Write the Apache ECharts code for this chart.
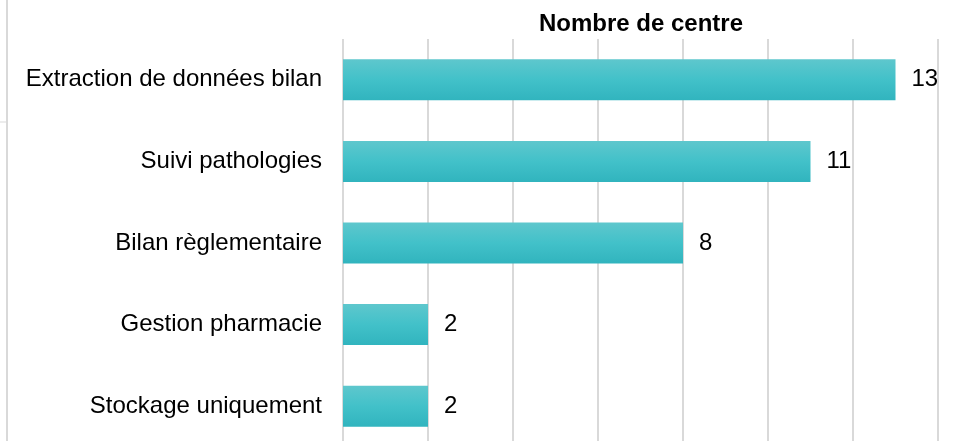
<!DOCTYPE html>
<html>
<head>
<meta charset="utf-8">
<script src="https://cdn.jsdelivr.net/npm/echarts@6/dist/echarts.min.js"></script>
<style>
  html, body { margin: 0; padding: 0; background: #fff; }
  #chart { width: 961px; height: 441px; }
</style>
</head>
<body>
<div id="chart"></div>
<script>
// données
var categories = ['Extraction de données bilan', 'Suivi pathologies', 'Bilan règlementaire', 'Gestion pharmacie', 'Stockage uniquement'];
var values = [13, 11, 8, 2, 2];

var myChart = echarts.init(document.getElementById('chart'));

myChart.setOption({
    animation: false,
    title: {
        text: 'Nombre de centre',
        left: 636,
        textAlign: 'center',
        top: 7,
        textStyle: { fontFamily: 'Liberation Sans', fontSize: 24, fontWeight: 'bold', color: '#000' }
    },
    grid: { left: 343, right: 23, top: 39, height: 408, containLabel: false, outerBoundsMode: 'none' },
    xAxis: {
        type: 'value',
        min: 0,
        max: 14,
        interval: 2,
        axisLabel: { show: false },
        axisLine: { show: false },
        axisTick: { show: false },
        splitLine: { show: true, lineStyle: { color: '#d9d9d9', width: 2 } }
    },
    yAxis: {
        type: 'category',
        inverse: true,
        data: categories,
        axisLine: { show: false },
        axisTick: { show: false },
        axisLabel: { margin: 21, fontFamily: 'Liberation Sans', fontSize: 24, color: '#000' }
    },
    graphic: [
        { type: 'line', shape: { x1: 7, y1: 0, x2: 7, y2: 441 }, style: { stroke: '#d9d9d9', lineWidth: 2 } },
        { type: 'line', shape: { x1: 0, y1: 122, x2: 7, y2: 122 }, style: { stroke: '#d9d9d9', lineWidth: 1 } }
    ],
    series: [{
        type: 'bar',
        data: values,
        barWidth: 41,
        itemStyle: {
            color: new echarts.graphic.LinearGradient(0, 0, 0, 1, [
                { offset: 0, color: '#5ec7cd' },
                { offset: 0.5, color: '#42c1c9' },
                { offset: 1, color: '#31b4be' }
            ])
        },
        label: {
            show: true,
            position: 'right',
            distance: 16,
            fontFamily: 'Liberation Sans',
            fontSize: 24,
            color: '#000'
        }
    }]
});
</script>
</body>
</html>
